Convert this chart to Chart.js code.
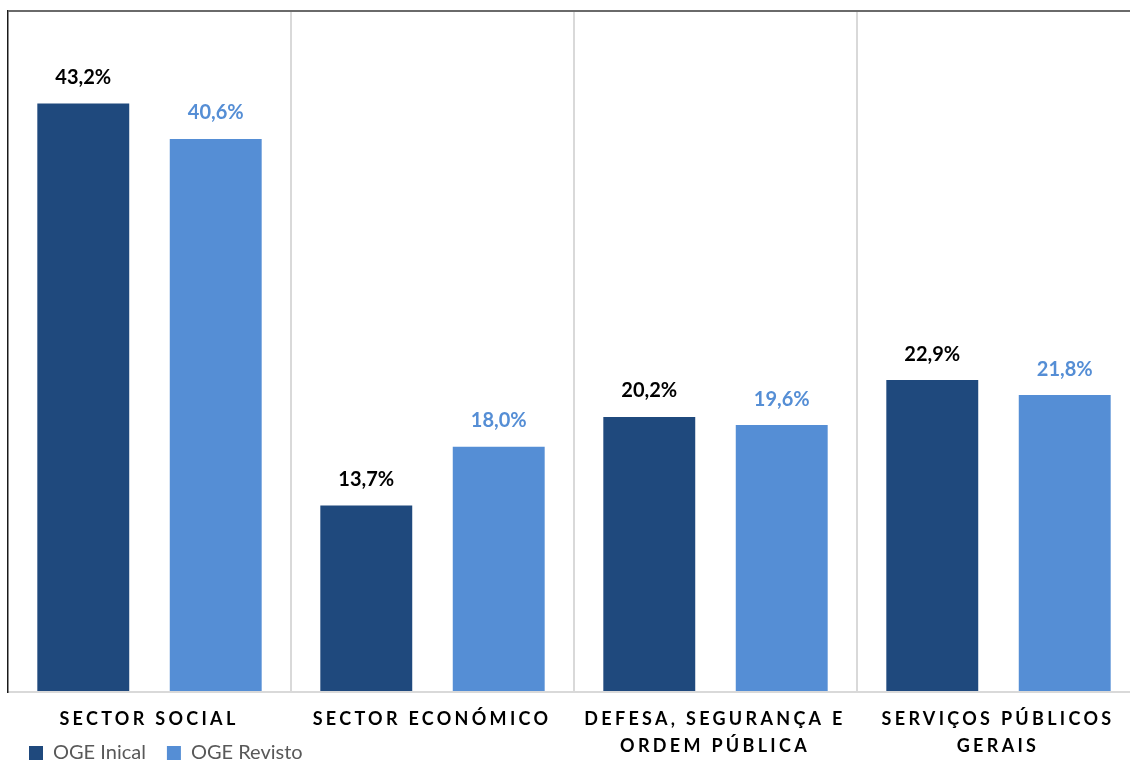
<!DOCTYPE html>
<html><head><meta charset="utf-8">
<script src="https://cdn.jsdelivr.net/npm/chart.js@4.4.0/dist/chart.umd.min.js"></script>
<style>html,body{margin:0;padding:0;overflow:hidden;background:#fff;width:1130px;height:762px}canvas{display:block}</style>
</head><body>
<canvas id="c" width="1150" height="773" style="width:1150px;height:773px"></canvas>
<script>
const categories = [['SECTOR SOCIAL'], ['SECTOR ECONÓMICO'], ['DEFESA, SEGURANÇA E', 'ORDEM PÚBLICA'], ['SERVIÇOS PÚBLICOS', 'GERAIS']];
const seriesNames = ['OGE Inical', 'OGE Revisto'];
const ogeInicial = [43.2, 13.7, 20.2, 22.9];
const ogeRevisto = [40.6, 18.0, 19.6, 21.8];
const yRange = [0, 50];

const barColors = ['#1f497d', '#558ed5'];
const labelColors = ['#000000', '#558ed5'];
const fmt = v => v.toFixed(1).replace('.', ',') + '%';

const letterSpacingPlugin = {
  id: 'xLetterSpacing',
  beforeDraw(chart) {
    const s = chart.scales.x;
    if (!s._lsPatched) {
      const orig = s.drawLabels;
      s._computeLabelArea = function () { return undefined; };
      s.drawLabels = function (area) {
        const ctx = this.ctx;
        ctx.save();
        ctx.letterSpacing = '3.3px';
        ctx.translate(-0.5, 0);
        orig.call(this, area);
        ctx.restore();
      };
      s._lsPatched = true;
    }
  }
};

const dataLabelPlugin = {
  id: 'barValueLabels',
  afterDatasetsDraw(chart) {
    const ctx = chart.ctx;
    chart.data.datasets.forEach((ds, i) => {
      const meta = chart.getDatasetMeta(i);
      meta.data.forEach((bar, j) => {
        ctx.save();
        ctx.font = 'bold 20px Lato';
        ctx.fillStyle = labelColors[i];
        ctx.textAlign = 'center';
        ctx.textBaseline = 'middle';
        ctx.fillText(fmt(ds.data[j]), bar.x, bar.y - 26);
        ctx.restore();
      });
    });
  }
};

new Chart(document.getElementById('c'), {
  type: 'bar',
  data: {
    labels: categories,
    datasets: [
      { label: seriesNames[0], data: ogeInicial, backgroundColor: barColors[0], borderWidth: 0 },
      { label: seriesNames[1], data: ogeRevisto, backgroundColor: barColors[1], borderWidth: 0 }
    ]
  },
  options: {
    responsive: false,
    animation: false,
    devicePixelRatio: 1,
    categoryPercentage: 0.936,
    barPercentage: 0.694,
    layout: { padding: { left: 8, right: 10, top: 11, bottom: 0 } },
    scales: {
      x: {
        offset: true,
        grid: {
          offset: true,
          drawTicks: false,
          color: c => c.index === 0 ? 'rgba(0,0,0,0)' : '#d9d9d9',
          lineWidth: 2
        },
        border: { color: '#d9d9d9', width: 2 },
        ticks: {
          color: '#000000',
          font: { family: 'Lato', size: 18, weight: 'bold', lineHeight: 1.5 },
          padding: 14,
          maxRotation: 0,
          minRotation: 0,
          autoSkip: false
        },
        afterFit: s => { s.height = 30; }
      },
      y: {
        min: yRange[0],
        max: yRange[1],
        ticks: { display: false, stepSize: 50 },
        grid: {
          drawTicks: false,
          color: c => c.tick && c.tick.value === yRange[1] ? '#6a6a6a' : 'rgba(0,0,0,0)',
          lineWidth: 2
        },
        border: { color: '#1a1a1a', width: 1.5 }
      }
    },
    plugins: {
      tooltip: { enabled: false },
      legend: {
        position: 'bottom',
        align: 'start',
        labels: {
          boxWidth: 14,
          boxHeight: 14,
          padding: 21,
          color: '#595959',
          font: { family: 'Lato', size: 20 }
        }
      }
    }
  },
  plugins: [letterSpacingPlugin, dataLabelPlugin]
});
</script>
</body></html>
